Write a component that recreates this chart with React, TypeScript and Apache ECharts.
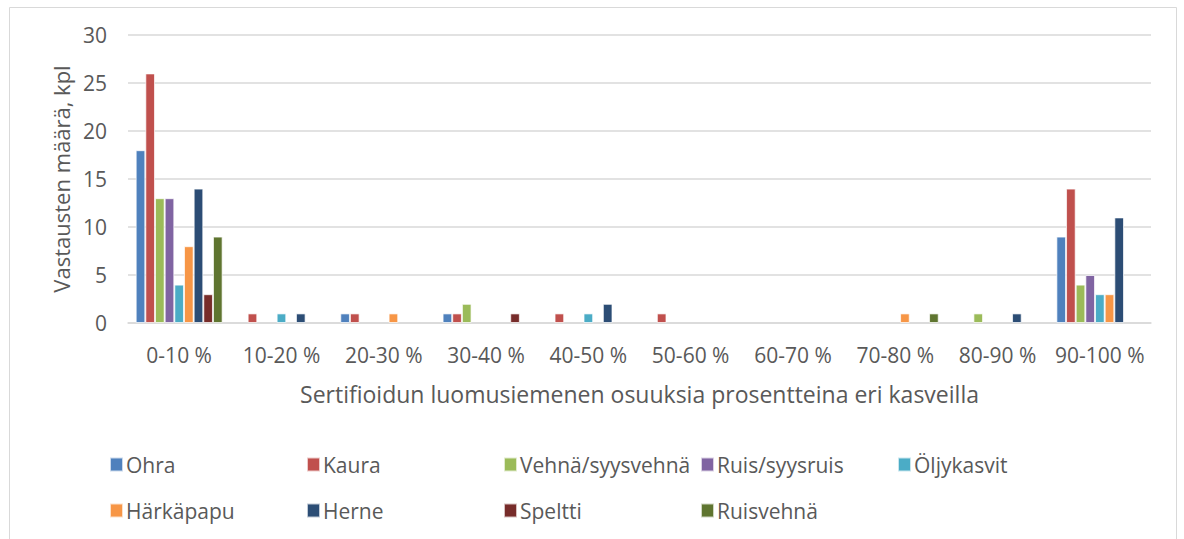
import React, { useEffect, useRef } from "react";
import * as echarts from "echarts";

const categories = ["0-10 %", "10-20 %", "20-30 %", "30-40 %", "40-50 %", "50-60 %", "60-70 %", "70-80 %", "80-90 %", "90-100 %"];

const ohra = [18, 0, 1, 1, 0, 0, 0, 0, 0, 9];
const kaura = [26, 1, 1, 1, 1, 1, 0, 0, 0, 14];
const vehna = [13, 0, 0, 2, 0, 0, 0, 0, 1, 4];
const ruis = [13, 0, 0, 0, 0, 0, 0, 0, 0, 5];
const oljykasvit = [4, 1, 0, 0, 1, 0, 0, 0, 0, 3];
const harkapapu = [8, 0, 1, 0, 0, 0, 0, 1, 0, 3];
const herne = [14, 1, 0, 0, 2, 0, 0, 0, 1, 11];
const speltti = [3, 0, 0, 1, 0, 0, 0, 0, 0, 0];
const ruisvehna = [9, 0, 0, 0, 0, 0, 0, 1, 0, 0];

const seriesNames = ["Ohra", "Kaura", "Vehnä/syysvehnä", "Ruis/syysruis", "Öljykasvit", "Härkäpapu", "Herne", "Speltti", "Ruisvehnä"];
const seriesValues = [ohra, kaura, vehna, ruis, oljykasvit, harkapapu, herne, speltti, ruisvehna];
const colors = ["#4F81BD", "#C0504D", "#9BBB59", "#8064A2", "#4BACC6", "#F79646", "#2C4D75", "#772C2A", "#5F7530"];

const yTicks = { min: 0, max: 30, interval: 5 };

const FONT = "'Open Sans', sans-serif";
const TXT = "#595959";

export default function App() {
  const ref = useRef<HTMLDivElement>(null);
  useEffect(() => {
    document.body.style.margin = "0";
    const chart = echarts.init(ref.current!, undefined, { renderer: "svg" });
    const legendLeft = [109, 306, 503, 700, 897];
    const legends = seriesNames.map((name, i) => ({
      data: [name],
      left: legendLeft[i % 5],
      top: i < 5 ? 454 : 500,
      padding: 0,
      itemWidth: 13,
      itemHeight: 14,
      itemGap: 0,
      icon: "rect",
      selectedMode: false,
      textStyle: { color: TXT, fontSize: 21, fontFamily: FONT, padding: [0, 0, 0, -2] },
    }));
    chart.setOption({
      animation: false,
      color: colors,
      graphic: [
        {
          type: "rect",
          shape: { x: 9.5, y: 7.5, width: 1167, height: 560 },
          style: { fill: "none", stroke: "#d9d9d9", lineWidth: 1 },
          silent: true,
        },
      ],
      grid: { left: 128, right: 33, top: 35, bottom: 216 },
      legend: legends,
      xAxis: {
        type: "category",
        data: categories,
        axisLine: { lineStyle: { color: "#d9d9d9", width: 1.5 } },
        axisTick: { show: false },
        axisLabel: { color: TXT, fontSize: 21, fontFamily: FONT, margin: 21, interval: 0 },
        name: "Sertifioidun luomusiemenen osuuksia prosentteina eri kasveilla",
        nameLocation: "middle",
        nameGap: 59,
        nameTextStyle: { color: TXT, fontSize: 23, fontFamily: FONT },
      },
      yAxis: {
        type: "value",
        min: yTicks.min,
        max: yTicks.max,
        interval: yTicks.interval,
        axisLine: { show: false },
        axisTick: { show: false },
        splitLine: { lineStyle: { color: "#d9d9d9", width: 1.5 } },
        axisLabel: { color: TXT, fontSize: 21, fontFamily: FONT, margin: 21 },
        name: "Vastausten määrä, kpl",
        nameLocation: "middle",
        nameRotate: 90,
        nameGap: 56,
        nameTextStyle: { color: TXT, fontSize: 22, fontFamily: FONT },
      },
      series: seriesNames.map((name, i) => ({
        name,
        type: "bar",
        data: seriesValues[i].map((v) => (v === 0 ? "-" : v)),
        barGap: "0%",
        barCategoryGap: "15%",
        itemStyle: { borderColor: "rgba(255,255,255,0.7)", borderWidth: 1 },
      })),
    });
    return () => chart.dispose();
  }, []);
  return <div ref={ref} style={{ width: 1184, height: 539 }} />;
}
